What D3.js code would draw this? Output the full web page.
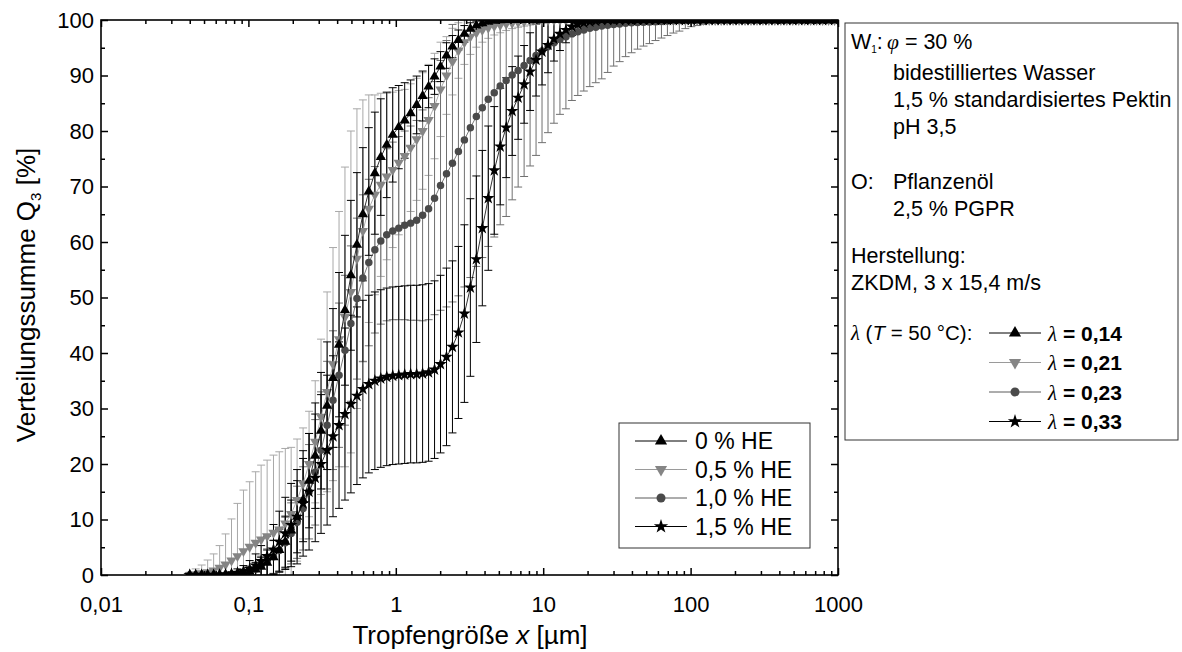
<!DOCTYPE html>
<html lang="de">
<head>
<meta charset="utf-8">
<title>Verteilungssumme Q3</title>
<script src="https://cdn.jsdelivr.net/npm/d3@7/dist/d3.min.js"></script>
<style>
  body { margin: 0; background: #fff; }
  svg text { font-family: "Liberation Sans", Arial, sans-serif; fill: #000; }
  .tick line { stroke: #000; stroke-width: 1.5px; }
</style>
</head>
<body>
<svg width="1182" height="652"></svg>
<script>
// size classes of the laser diffraction (µm)
var sizes = [
  0.04, 0.0439, 0.0482, 0.0529, 0.0581, 0.0638, 0.07, 0.0768, 0.0843, 0.0926,
  0.102, 0.112, 0.122, 0.134, 0.148, 0.162, 0.178, 0.195, 0.214, 0.235,
  0.258, 0.284, 0.311, 0.342, 0.375, 0.412, 0.452, 0.496, 0.545, 0.598,
  0.656, 0.721, 0.791, 0.868, 0.953, 1.047, 1.149, 1.261, 1.385, 1.52,
  1.669, 1.832, 2.011, 2.208, 2.423, 2.66, 2.92, 3.206, 3.519, 3.863,
  4.241, 4.656, 5.111, 5.611, 6.159, 6.761, 7.422, 8.148, 8.944, 9.819,
  10.78, 11.83, 12.99, 14.26, 15.65, 17.18, 18.86, 20.71, 22.73, 24.95,
  27.39, 30.07, 33.01, 36.24, 39.78, 43.67, 47.94, 52.63, 57.77, 63.42,
  69.62, 76.43, 83.9, 92.1, 101.1, 111, 121.8, 133.7, 146.8, 161.2,
  176.9, 194.2, 213.2, 234.1, 256.9, 282.1, 309.6, 339.9, 373.1, 409.6,
  449.7, 493.6, 541.9, 594.9, 653, 716.9, 786.9, 863.9, 948.2
];

var heLabels = ["0 % HE", "0,5 % HE", "1,0 % HE", "1,5 % HE"];
var lambdaLabels = ["0,14", "0,21", "0,23", "0,33"];
var xTicks = [0.01, 0.1, 1, 10, 100, 1000];
var yTicks = [0, 10, 20, 30, 40, 50, 60, 70, 80, 90, 100];
var yMinor = [5, 15, 25, 35, 45, 55, 65, 75, 85, 95];

// Q3 [%] and standard deviation, 0 % HE
var q0 = [
  0, 0, 0, 0, 0, 0, 0.05, 0.1, 0.2, 0.35,
  0.6, 1.0, 1.5, 2.2, 3.2, 4.5, 6, 8, 10.5, 13.5,
  17, 21.5, 26, 30.5, 35.5, 41.5, 47.7, 54, 59.5, 65,
  69.1, 72.4, 75.3, 77.5, 79.3, 80.7, 81.9, 83.2, 84.7, 86.3,
  88, 89.8, 91.6, 93.6, 95.2, 96.4, 97.5, 98.4, 99, 99.4,
  99.7, 99.85, 99.95, 100, 100, 100, 100, 100, 100, 100,
  100, 100, 100, 100, 100, 100, 100, 100, 100, 100,
  100, 100, 100, 100, 100, 100, 100, 100, 100, 100,
  100, 100, 100, 100, 100, 100, 100, 100, 100, 100,
  100, 100, 100, 100, 100, 100, 100, 100, 100, 100,
  100, 100, 100, 100, 100, 100, 100, 100, 100
];
var e0 = [
  0, 0, 0, 0, 0, 0, 0.1, 0.2, 0.3, 0.5,
  0.8, 1.2, 1.7, 2.3, 3, 3.8, 4.6, 5.5, 6.5, 7.5,
  8.5, 9.5, 10.5, 11.5, 12.5, 13, 13.5, 13.5, 13, 12,
  11.5, 11, 10.5, 9.5, 8.5, 7.5, 6.8, 6, 5.2, 4.5,
  3.8, 3.2, 2.7, 2.3, 2, 1.8, 1.5, 1.1, 0.8, 0.5,
  0.3, 0.2, 0.1, 0, 0, 0, 0, 0, 0, 0,
  0, 0, 0, 0, 0, 0, 0, 0, 0, 0,
  0, 0, 0, 0, 0, 0, 0, 0, 0, 0,
  0, 0, 0, 0, 0, 0, 0, 0, 0, 0,
  0, 0, 0, 0, 0, 0, 0, 0, 0, 0,
  0, 0, 0, 0, 0, 0, 0, 0, 0
];

// 0,5 % HE
var q1 = [
  0, 0.1, 0.3, 0.5, 0.8, 1.3, 1.9, 2.6, 3.4, 4.3,
  5.1, 5.8, 6.4, 7, 7.6, 8.2, 9.3, 11, 13.5, 16.5,
  20, 24, 28.5, 33, 38, 42.5, 46.5, 51, 57, 62,
  66, 68.5, 70.3, 71.8, 73, 74.3, 75.5, 77, 78.5, 80,
  82, 84.5, 87.5, 90, 92.5, 94.5, 96, 97, 97.7, 98.2,
  98.6, 98.9, 99.1, 99.3, 99.45, 99.6, 99.7, 99.8, 99.85, 99.9,
  99.95, 100, 100, 100, 100, 100, 100, 100, 100, 100,
  100, 100, 100, 100, 100, 100, 100, 100, 100, 100,
  100, 100, 100, 100, 100, 100, 100, 100, 100, 100,
  100, 100, 100, 100, 100, 100, 100, 100, 100, 100,
  100, 100, 100, 100, 100, 100, 100, 100, 100
];
var e1 = [
  0.5, 1, 1.5, 2.2, 3, 4, 5.5, 7.5, 9.5, 11,
  11.7, 12.8, 13.4, 13.7, 14, 14, 13.5, 12, 11, 10,
  9.5, 11, 14, 18, 21, 23, 27, 29, 27, 23.6,
  20.5, 18, 16.5, 15, 14, 13, 12, 11.5, 11, 10.5,
  10, 9.5, 8.5, 7, 6, 5, 4, 3.2, 2.6, 2.2,
  1.9, 1.6, 1.4, 1.2, 1, 0.9, 0.8, 0.7, 0.6, 0.5,
  0.4, 0.3, 0, 0, 0, 0, 0, 0, 0, 0,
  0, 0, 0, 0, 0, 0, 0, 0, 0, 0,
  0, 0, 0, 0, 0, 0, 0, 0, 0, 0,
  0, 0, 0, 0, 0, 0, 0, 0, 0, 0,
  0, 0, 0, 0, 0, 0, 0, 0, 0
];

// 1,0 % HE
var q2 = [
  0, 0, 0, 0, 0, 0, 0, 0.1, 0.2, 0.4,
  0.7, 1.1, 1.7, 2.4, 3.3, 4.4, 5.8, 7.5, 9.5, 12,
  15, 18.5, 22.5, 27, 31.5, 36, 40.5, 45.3, 49.8, 53.5,
  56.3, 58.6, 60.2, 61.3, 62, 62.5, 63, 63.4, 63.9, 64.8,
  66, 67.9, 70.2, 72.3, 74.2, 76.3, 78.4, 80.6, 82.6, 84.2,
  85.7, 86.9, 88.1, 89.1, 90.1, 90.9, 91.8, 92.7, 93.6, 94.4,
  95.2, 95.9, 96.5, 97, 97.5, 97.9, 98.2, 98.5, 98.7, 98.9,
  99.05, 99.2, 99.3, 99.4, 99.5, 99.55, 99.6, 99.65, 99.7, 99.75,
  99.8, 99.85, 99.9, 99.95, 100, 100, 100, 100, 100, 100,
  100, 100, 100, 100, 100, 100, 100, 100, 100, 100,
  100, 100, 100, 100, 100, 100, 100, 100, 100
];
var e2 = [
  0, 0, 0, 0, 0, 0, 0, 0.2, 0.3, 0.5,
  0.8, 1.2, 1.7, 2.3, 3, 3.8, 4.6, 5.5, 6.5, 7.5,
  8.5, 9.5, 10.5, 11.5, 12.5, 13, 13.5, 14, 14.5, 15,
  15, 15, 15, 15.5, 16, 16.5, 17, 17.5, 18, 19,
  20, 21, 22.5, 24, 25, 26, 26.5, 27, 27, 27,
  26.5, 26, 25, 24.5, 22.5, 21, 20, 19, 18, 16.5,
  15.5, 14.5, 13.5, 13, 12, 11.5, 11, 10.5, 10, 9.5,
  8.5, 7.5, 6.8, 6, 5.4, 4.8, 4.3, 3.9, 3.4, 3,
  2.6, 2.2, 1.9, 1.5, 1.2, 1, 0.8, 0.6, 0.4, 0.3,
  0.2, 0, 0, 0, 0, 0, 0, 0, 0, 0,
  0, 0, 0, 0, 0, 0, 0, 0, 0
];

// 1,5 % HE
var q3 = [
  0, 0, 0, 0, 0, 0.05, 0.1, 0.2, 0.4, 0.7,
  1.1, 1.7, 2.5, 3.4, 4.6, 6, 7.5, 9, 10.5, 12.9,
  15, 17.5, 20, 22.5, 25, 27, 29, 30.8, 32.3, 33.5,
  34.4, 35, 35.4, 35.7, 35.9, 36, 36.1, 36.2, 36.2, 36.3,
  36.5, 37, 38, 39.3, 41.1, 43.7, 47.1, 51.8, 56.9, 62.5,
  67.9, 72.9, 77.2, 80.6, 83.6, 86, 88.4, 90.7, 92.8, 94.3,
  95.5, 96.6, 97.5, 98.2, 98.8, 99.2, 99.5, 99.7, 99.85, 100,
  100, 100, 100, 100, 100, 100, 100, 100, 100, 100,
  100, 100, 100, 100, 100, 100, 100, 100, 100, 100,
  100, 100, 100, 100, 100, 100, 100, 100, 100, 100,
  100, 100, 100, 100, 100, 100, 100, 100, 100
];
var e3 = [
  0, 0, 0, 0, 0, 0.1, 0.2, 0.4, 0.7, 1,
  1.5, 2.1, 2.8, 3.6, 4.5, 5.5, 6.5, 7.5, 8.5, 9.5,
  10.5, 11.5, 12.5, 13.5, 14.5, 15, 15.5, 16, 16, 16,
  16, 16, 16, 16, 16, 16, 16, 16, 16, 16,
  16, 16, 16, 16, 15.5, 15.5, 16, 16, 15, 14,
  13, 11.5, 10.5, 9, 8, 7.5, 7, 7, 6.5, 6,
  5, 4, 3, 2.3, 1.6, 1, 0.6, 0.3, 0.15, 0,
  0, 0, 0, 0, 0, 0, 0, 0, 0, 0,
  0, 0, 0, 0, 0, 0, 0, 0, 0, 0,
  0, 0, 0, 0, 0, 0, 0, 0, 0, 0,
  0, 0, 0, 0, 0, 0, 0, 0, 0
];

var series = [
  {q: q0, e: e0, sym: d3.symbolTriangle, rot: 0,   size: 46, fill: "#000",    line: "#000",    err: "#000"},
  {q: q1, e: e1, sym: d3.symbolTriangle, rot: 180, size: 46, fill: "#858585", line: "#9a9a9a", err: "#a8a8a8"},
  {q: q2, e: e2, sym: d3.symbolCircle,   rot: 0,   size: 44, fill: "#4a4a4a", line: "#5a5a5a", err: "#707070"},
  {q: q3, e: e3, sym: d3.symbolStar,     rot: 0,   size: 50, fill: "#000",    line: "#000",    err: "#000"}
];

var svg = d3.select("svg");
var x0 = 101, x1 = 838, y0 = 575, y1 = 20;
var x = d3.scaleLog().domain([0.01, 1000]).range([x0, x1]);
var y = d3.scaleLinear().domain([0, 100]).range([y0, y1]);

svg.append("clipPath").attr("id", "plotclip")
  .append("rect").attr("x", x0).attr("y", y1).attr("width", x1 - x0).attr("height", y0 - y1);

var plot = svg.append("g").attr("clip-path", "url(#plotclip)");

// error bars (light ones first)
var order = [1, 2, 0, 3];
order.forEach(function(k) {
  var s = series[k];
  var pts = s.q.map(function(v, i) { return {x: sizes[i], v: v, e: s.e[i]}; })
    .filter(function(d) { return d.e > 0; });
  plot.append("g")
    .attr("fill", "none").attr("stroke", s.err).attr("stroke-width", 1)
    .selectAll("path").data(pts).enter().append("path")
    .attr("d", function(d) {
      var px = x(d.x), ya = y(d.v + d.e), yb = y(d.v - d.e);
      return "M" + (px - 4) + "," + ya + "H" + (px + 4) +
             "M" + px + "," + ya + "V" + yb +
             "M" + (px - 4) + "," + yb + "H" + (px + 4);
    });
});

// lines and symbols
order.forEach(function(k) {
  var s = series[k];
  var line = d3.line()
    .x(function(d, i) { return x(sizes[i]); })
    .y(function(d) { return y(d); });
  plot.append("path").datum(s.q)
    .attr("fill", "none").attr("stroke", s.line).attr("stroke-width", 0.8)
    .attr("d", line);
  plot.append("g").selectAll("path").data(s.q).enter().append("path")
    .attr("d", d3.symbol().type(s.sym).size(s.size))
    .attr("fill", s.fill)
    .attr("transform", function(d, i) {
      return "translate(" + x(sizes[i]) + "," + y(d) + ") rotate(" + s.rot + ")";
    });
});

// axes
function fmt(d) { return String(d).replace(".", ","); }
var xMinor = [];
xTicks.slice(0, -1).forEach(function(t) {
  for (var m = 2; m < 10; m++) xMinor.push(t * m);
});

function clean(g) { g.select(".domain").remove(); }

svg.append("g").attr("transform", "translate(0," + y0 + ")")
  .call(d3.axisBottom(x).tickValues(xTicks).tickFormat(fmt).tickSizeInner(-7).tickSizeOuter(0).tickPadding(21))
  .call(clean)
  .selectAll("text").attr("font-size", 22).attr("font-family", null);
svg.append("g").attr("transform", "translate(0," + y0 + ")")
  .call(d3.axisBottom(x).tickValues(xMinor).tickFormat("").tickSize(-4)).call(clean);
svg.append("g").attr("transform", "translate(0," + y1 + ")")
  .call(d3.axisTop(x).tickValues(xTicks).tickFormat("").tickSize(-7)).call(clean);
svg.append("g").attr("transform", "translate(0," + y1 + ")")
  .call(d3.axisTop(x).tickValues(xMinor).tickFormat("").tickSize(-4)).call(clean);

svg.append("g").attr("transform", "translate(" + x0 + ",0)")
  .call(d3.axisLeft(y).tickValues(yTicks).tickFormat(d3.format("d")).tickSize(-7).tickPadding(7))
  .call(clean)
  .selectAll("text").attr("font-size", 22).attr("font-family", null);
svg.append("g").attr("transform", "translate(" + x0 + ",0)")
  .call(d3.axisLeft(y).tickValues(yMinor).tickFormat("").tickSize(-4)).call(clean);
svg.append("g").attr("transform", "translate(" + x1 + ",0)")
  .call(d3.axisRight(y).tickValues(yTicks).tickFormat("").tickSize(-7)).call(clean);
svg.append("g").attr("transform", "translate(" + x1 + ",0)")
  .call(d3.axisRight(y).tickValues(yMinor).tickFormat("").tickSize(-4)).call(clean);

svg.append("rect")
  .attr("x", x0).attr("y", y1).attr("width", x1 - x0).attr("height", y0 - y1)
  .attr("fill", "none").attr("stroke", "#000").attr("stroke-width", 1.6);

// axis titles
var xt = svg.append("text").attr("x", 470).attr("y", 644)
  .attr("text-anchor", "middle").attr("font-size", 26);
xt.append("tspan").text("Tropfengröße ");
xt.append("tspan").attr("font-style", "italic").text("x");
xt.append("tspan").text(" [µm]");

var yt = svg.append("text").attr("transform", "translate(35,295) rotate(-90)")
  .attr("text-anchor", "middle").attr("font-size", 26);
yt.append("tspan").text("Verteilungssumme Q");
yt.append("tspan").attr("font-size", 15).attr("dy", 6).text("3");
yt.append("tspan").attr("dy", -6).text(" [%]");

// legend inside the plot
function marker(g, s, cx, cy, size) {
  g.append("line").attr("x1", cx - 26).attr("x2", cx + 26).attr("y1", cy).attr("y2", cy)
    .attr("stroke", s.line).attr("stroke-width", 1);
  g.append("path").attr("d", d3.symbol().type(s.sym).size(size))
    .attr("fill", s.fill)
    .attr("transform", "translate(" + cx + "," + cy + ") rotate(" + s.rot + ")");
}

var leg = svg.append("g");
leg.append("rect").attr("x", 619).attr("y", 423).attr("width", 191).attr("height", 125)
  .attr("fill", "#fff").attr("stroke", "#333").attr("stroke-width", 1);
heLabels.forEach(function(t, k) {
  var cy = 441 + k * 28.5;
  marker(leg, series[k], 661, cy, 64);
  leg.append("text").attr("x", 695).attr("y", cy).attr("dy", "0.36em")
    .attr("font-size", 23).text(t);
});

// info box on the right
var info = svg.append("g");
info.append("rect").attr("x", 845).attr("y", 23).attr("width", 333).attr("height", 417)
  .attr("fill", "#fff").attr("stroke", "#333").attr("stroke-width", 1);

function line(xp, yp, parts, size) {
  var t = info.append("text").attr("x", xp).attr("y", yp).attr("font-size", size || 21.5);
  parts.forEach(function(p) {
    var sp = t.append("tspan").text(p[0]);
    if (p[1]) Object.keys(p[1]).forEach(function(a) { sp.attr(a, p[1][a]); });
  });
  return t;
}
var serif = {"font-family": "Liberation Serif, serif", "font-style": "italic"};

line(851, 49, [["W"], ["1", {"font-size": 10, "dy": 4}], [":", {"dy": -4}]]);
line(887, 49, [["φ", serif], [" = 30 %"]]);
line(893, 80, [["bidestilliertes Wasser"]]);
line(893, 107, [["1,5 % standardisiertes Pektin"]]);
line(893, 134, [["pH 3,5"]]);
line(851, 189, [["O:"]]);
line(893, 189, [["Pflanzenöl"]]);
line(893, 216, [["2,5 % PGPR"]]);
line(851, 263, [["Herstellung:"]]);
line(851, 290, [["ZKDM, 3 x 15,4 m/s"]]);
line(851, 340, [["λ", serif], [" ("], ["T", {"font-style": "italic"}], [" = 50 °C):"]], 20.5);

lambdaLabels.forEach(function(t, k) {
  var cy = 333 + k * 29.5;
  marker(info, series[k], 1015, cy, 64);
  info.append("text").attr("x", 1048).attr("y", cy).attr("dy", "0.36em")
    .attr("font-size", 21)
    .call(function(tx) {
      tx.append("tspan").attr("font-family", "Liberation Serif, serif").attr("font-style", "italic").text("λ");
      tx.append("tspan").attr("font-weight", "bold").text(" = " + t);
    });
});
</script>
</body>
</html>
